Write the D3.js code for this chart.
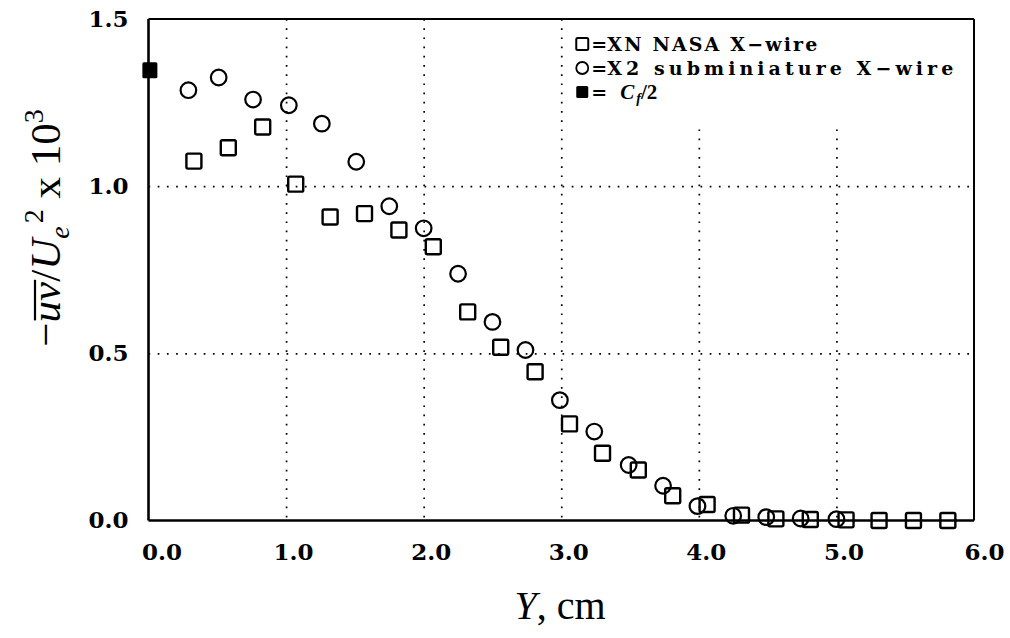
<!DOCTYPE html>
<html>
<head>
<meta charset="utf-8">
<script src="https://cdn.jsdelivr.net/npm/d3@7"></script>
<style>
  body { margin: 0; background: #fff; }
  svg { display: block; }
</style>
</head>
<body>
<svg id="chart" width="1010" height="638"></svg>
<script>
// XN NASA X-wire (squares)
const xnY = [0.33, 0.58, 0.83, 1.07, 1.32, 1.57, 1.82, 2.07, 2.32, 2.56, 2.81, 3.06, 3.30, 3.56,
             3.81, 4.06, 4.31, 4.56, 4.81, 5.07, 5.31, 5.56, 5.81]
const xnVal = [1.075, 1.115, 1.177, 1.006, 0.908, 0.918, 0.869, 0.819, 0.624, 0.518, 0.445, 0.289,
               0.201, 0.151, 0.074, 0.048, 0.016, 0.005, 0.003, 0.002, 0.0, 0.0, 0.0]
// X2 subminiature X-wire (circles)
const x2Y = [0.29, 0.51, 0.76, 1.02, 1.26, 1.51, 1.75, 2.00, 2.25, 2.50, 2.74, 2.99, 3.24, 3.49,
             3.74, 3.99, 4.25, 4.49, 4.74, 5.00]
const x2Val = [1.287, 1.325, 1.259, 1.242, 1.187, 1.073, 0.940, 0.874, 0.738, 0.594, 0.510, 0.360,
               0.266, 0.166, 0.104, 0.043, 0.014, 0.010, 0.006, 0.004]
// Cf/2 (filled square)
const cfY = [0.01]
const cfVal = [1.347]

const xTicks = [0, 1, 2, 3, 4, 5, 6]
const yTicks = [0, 0.5, 1.0, 1.5]
const xGrid = [1, 2, 3, 4, 5]
const yGrid = [0.5, 1.0]

const legendLabels = ['XN NASA X\u2212wire', 'X2 subminiature X\u2212wire']

const margin = { left: 148.5, right: 36, top: 19, bottom: 117.5 }
const width = 1010 - margin.left - margin.right
const height = 638 - margin.top - margin.bottom

const svg = d3.select('#chart')
const g = svg.append('g').attr('transform', 'translate(' + margin.left + ',' + margin.top + ')')

const xScale = d3.scaleLinear().domain([0, 6]).range([0, width])
const yScale = d3.scaleLinear().domain([0, 1.5]).range([height, 0])

const tickFont = 'DejaVu Serif'

// dotted grid
g.append('g')
  .attr('class', 'gridx')
  .call(d3.axisBottom(xScale).tickValues(xGrid).tickSize(height).tickFormat(''))
  .call(sel => sel.select('.domain').remove())
g.append('g')
  .attr('class', 'gridy')
  .call(d3.axisLeft(yScale).tickValues(yGrid).tickSize(-width).tickFormat(''))
  .call(sel => sel.select('.domain').remove())
g.selectAll('.gridx line, .gridy line')
  .attr('stroke', '#000')
  .attr('stroke-width', 1.7)
  .attr('stroke-dasharray', '1.7,7.5')

// legend background hides the grid behind it
g.append('rect')
  .attr('x', xScale(3) + 5)
  .attr('y', 1)
  .attr('width', width - xScale(3) - 6)
  .attr('height', 104)
  .attr('fill', '#fff')

// frame
g.append('line').attr('x1', 0).attr('x2', width).attr('y1', 0).attr('y2', 0)
  .attr('stroke', '#000').attr('stroke-width', 2)
g.append('line').attr('x1', width).attr('x2', width).attr('y1', 0).attr('y2', height)
  .attr('stroke', '#000').attr('stroke-width', 2)
g.append('line').attr('x1', 0).attr('x2', 0).attr('y1', 0).attr('y2', height)
  .attr('stroke', '#000').attr('stroke-width', 2.6)
g.append('line').attr('x1', 0).attr('x2', width).attr('y1', height).attr('y2', height)
  .attr('stroke', '#000').attr('stroke-width', 2.6)

// tick labels
const xAxis = g.append('g')
  .attr('transform', 'translate(0,' + height + ')')
  .call(d3.axisBottom(xScale).tickValues(xTicks).tickSize(0).tickPadding(23).tickFormat(d3.format('.1f')))
xAxis.select('.domain').remove()
xAxis.selectAll('text')
  .attr('dx', d => d === 0 ? 13 : (d === 6 ? 10 : 7))
  .attr('font-family', tickFont)
  .attr('font-weight', 'bold')
  .attr('font-size', 23)
  .attr('fill', '#000')

const yAxis = g.append('g')
  .call(d3.axisLeft(yScale).tickValues(yTicks).tickSize(0).tickPadding(20).tickFormat(d3.format('.1f')))
yAxis.select('.domain').remove()
yAxis.selectAll('text')
  .attr('font-family', tickFont)
  .attr('font-weight', 'bold')
  .attr('font-size', 23)
  .attr('fill', '#000')

// data marks
const squareSide = 15
g.selectAll('.sq')
  .data(d3.zip(xnY, xnVal))
  .enter()
  .append('rect')
  .attr('class', 'sq')
  .attr('x', d => xScale(d[0]) - squareSide / 2)
  .attr('y', d => yScale(d[1]) - squareSide / 2)
  .attr('width', squareSide)
  .attr('height', squareSide)
  .attr('rx', 1.5)
  .attr('fill', 'none')
  .attr('stroke', '#000')
  .attr('stroke-width', 2.4)

g.selectAll('.dot')
  .data(d3.zip(x2Y, x2Val))
  .enter()
  .append('circle')
  .attr('class', 'dot')
  .attr('cx', d => xScale(d[0]))
  .attr('cy', d => yScale(d[1]))
  .attr('r', 7.8)
  .attr('fill', 'none')
  .attr('stroke', '#000')
  .attr('stroke-width', 2.2)

g.selectAll('.cf')
  .data(d3.zip(cfY, cfVal))
  .enter()
  .append('rect')
  .attr('class', 'cf')
  .attr('x', d => xScale(d[0]) - 7.5)
  .attr('y', d => yScale(d[1]) - 8)
  .attr('width', 15)
  .attr('height', 16)
  .attr('rx', 1.5)
  .attr('fill', '#000')

// legend
const legend = g.append('g').attr('transform', 'translate(' + (xScale(3) + 21) + ',0)')
const rowY = [25, 49, 73]
legend.append('rect')
  .attr('x', -6).attr('y', rowY[0] - 6).attr('width', 12).attr('height', 12).attr('rx', 1.5)
  .attr('fill', 'none').attr('stroke', '#000').attr('stroke-width', 2)
legend.append('circle')
  .attr('cx', 0).attr('cy', rowY[1]).attr('r', 6)
  .attr('fill', 'none').attr('stroke', '#000').attr('stroke-width', 1.8)
legend.append('rect')
  .attr('x', -6).attr('y', rowY[2] - 6).attr('width', 12).attr('height', 12).attr('rx', 1.5)
  .attr('fill', '#000')

const legendText = legend.append('g')
  .attr('font-family', tickFont)
  .attr('font-weight', 'bold')
  .attr('font-size', 19)
  .attr('fill', '#000')

legendText.selectAll('.eq')
  .data(rowY)
  .enter()
  .append('text')
  .attr('x', 9).attr('y', d => d + 7)
  .text('=')
legendText.append('text').attr('x', 25).attr('y', rowY[0] + 7)
  .attr('textLength', 210).attr('lengthAdjust', 'spacing')
  .text(legendLabels[0])
legendText.append('text').attr('x', 25).attr('y', rowY[1] + 7)
  .attr('textLength', 346).attr('lengthAdjust', 'spacing')
  .text(legendLabels[1])
const cfText = legendText.append('text').attr('x', 38).attr('y', rowY[2] + 7)
  .attr('font-family', 'Liberation Serif')
  .attr('font-size', 21)
cfText.append('tspan').attr('font-style', 'italic').text('C')
cfText.append('tspan').attr('font-style', 'italic').attr('font-size', 14).attr('dy', 4).attr('dx', 2).text('f')
cfText.append('tspan').attr('dy', -4).text('/2')

// axis titles
const mathFont = 'Liberation Serif'
const yTitleG = svg.append('g').attr('transform', 'translate(60,228) rotate(-90)')
const yTitle = yTitleG.append('text')
  .attr('text-anchor', 'middle')
  .attr('font-family', mathFont)
  .attr('font-size', 43)
  .attr('fill', '#000')
yTitle.append('tspan').text('\u2212')
yTitle.append('tspan').attr('font-style', 'italic').text('uv')
yTitle.append('tspan').text('/')
yTitle.append('tspan').attr('font-style', 'italic').text('U')
yTitle.append('tspan').attr('font-style', 'italic').attr('font-size', 28).attr('dy', 9).text('e')
yTitle.append('tspan').attr('font-size', 28).attr('dy', -26).attr('dx', 3).text('2')
yTitle.append('tspan').attr('dy', 17).text(' x 10')
yTitle.append('tspan').attr('font-size', 28).attr('dy', -17).text('3')

// overline over "uv", placed from the glyph positions
const tnode = yTitle.node()
const ovStart = tnode.getStartPositionOfChar(1).x
const ovEnd = tnode.getEndPositionOfChar(2).x
yTitleG.append('line')
  .attr('x1', ovStart + 2).attr('x2', ovEnd + 2)
  .attr('y1', -25).attr('y2', -25)
  .attr('stroke', '#000').attr('stroke-width', 2.2)

const xTitle = svg.append('text')
  .attr('x', 560)
  .attr('y', 619)
  .attr('text-anchor', 'middle')
  .attr('font-family', mathFont)
  .attr('font-size', 40)
  .attr('fill', '#000')
xTitle.append('tspan').attr('font-style', 'italic').text('Y')
xTitle.append('tspan').text(', cm')
</script>
</body>
</html>
